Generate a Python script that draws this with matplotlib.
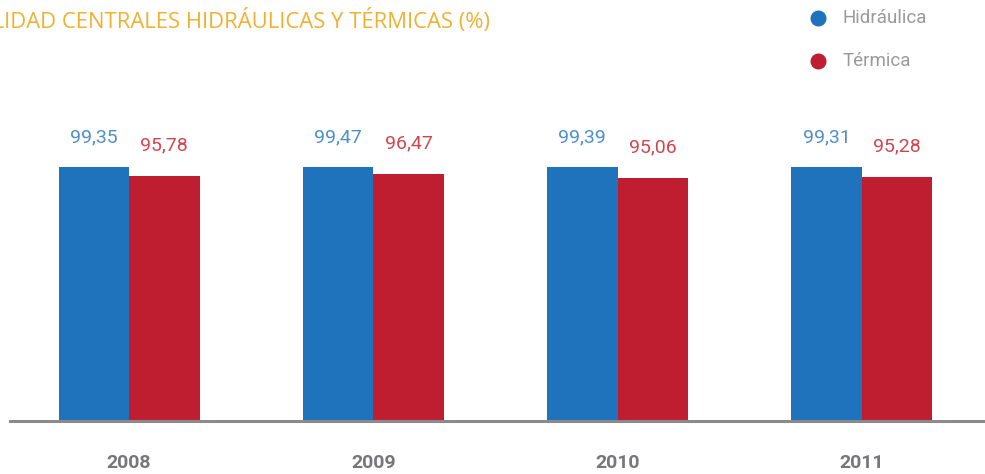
import matplotlib.pyplot as plt
import numpy as np

years = ['2008', '2009', '2010', '2011']
hidraulica = [99.35, 99.47, 99.39, 99.31]
termica = [95.78, 96.47, 95.06, 95.28]
series_names = ['Hidráulica', 'Térmica']

blue = '#1f72bc'
red = '#be1e2f'
blue_txt = '#4f8fcb'
red_txt = '#cf4651'
grey = '#8a8a8c'

fig = plt.figure(figsize=(9.85, 4.74), dpi=100)
ax = fig.add_axes([0.0102, 0.1118, 0.9898, 0.8882])

x = np.arange(len(years))
w = 0.2886
num_font = ['Roboto', 'DejaVu Sans']

ax.bar(x - w / 2, hidraulica, w, color=blue, zorder=2)
ax.bar(x + w / 2, termica, w, color=red, zorder=2)

for xi, h, t in zip(x, hidraulica, termica):
    ax.text(xi - w / 2, h + 11.5, f'{h:.2f}'.replace('.', ','), ha='center', va='center',
            color=blue_txt, fontsize=14, family=num_font)
    ax.text(xi + w / 2, t + 12, f'{t:.2f}'.replace('.', ','), ha='center', va='center',
            color=red_txt, fontsize=14, family=num_font)
    ax.text(xi, -16.5, years[int(xi)], ha='center', va='center', color='#77777a',
            fontsize=14, family=num_font, fontweight='bold')

ax.set_xlim(-0.487, 3.504)
ax.set_ylim(0, 164.6)
ax.axhline(0, color=grey, lw=2.2, zorder=3, clip_on=False)
ax.axis('off')

# title runs off the left edge
fig.text(490 / 985, 1 - 21 / 474, 'DISPONIBILIDAD CENTRALES HIDRÁULICAS Y TÉRMICAS (%)',
         ha='right', va='center', color='#f0b030', fontsize=15.8,
         family=['Open Sans', 'DejaVu Sans'])

# legend
for i, (name, c) in enumerate(zip(series_names, [blue, red])):
    yy = 1 - (18 + 43 * i) / 474
    fig.add_artist(plt.Line2D([818 / 985], [yy], marker='o', markersize=10.5,
                              color=c, transform=fig.transFigure))
    fig.text(843 / 985, yy, name, ha='left', va='center', color='#9a9a9c',
             fontsize=13.5, family=['Roboto', 'DejaVu Sans'])

fig.savefig('out.png', dpi=100)
